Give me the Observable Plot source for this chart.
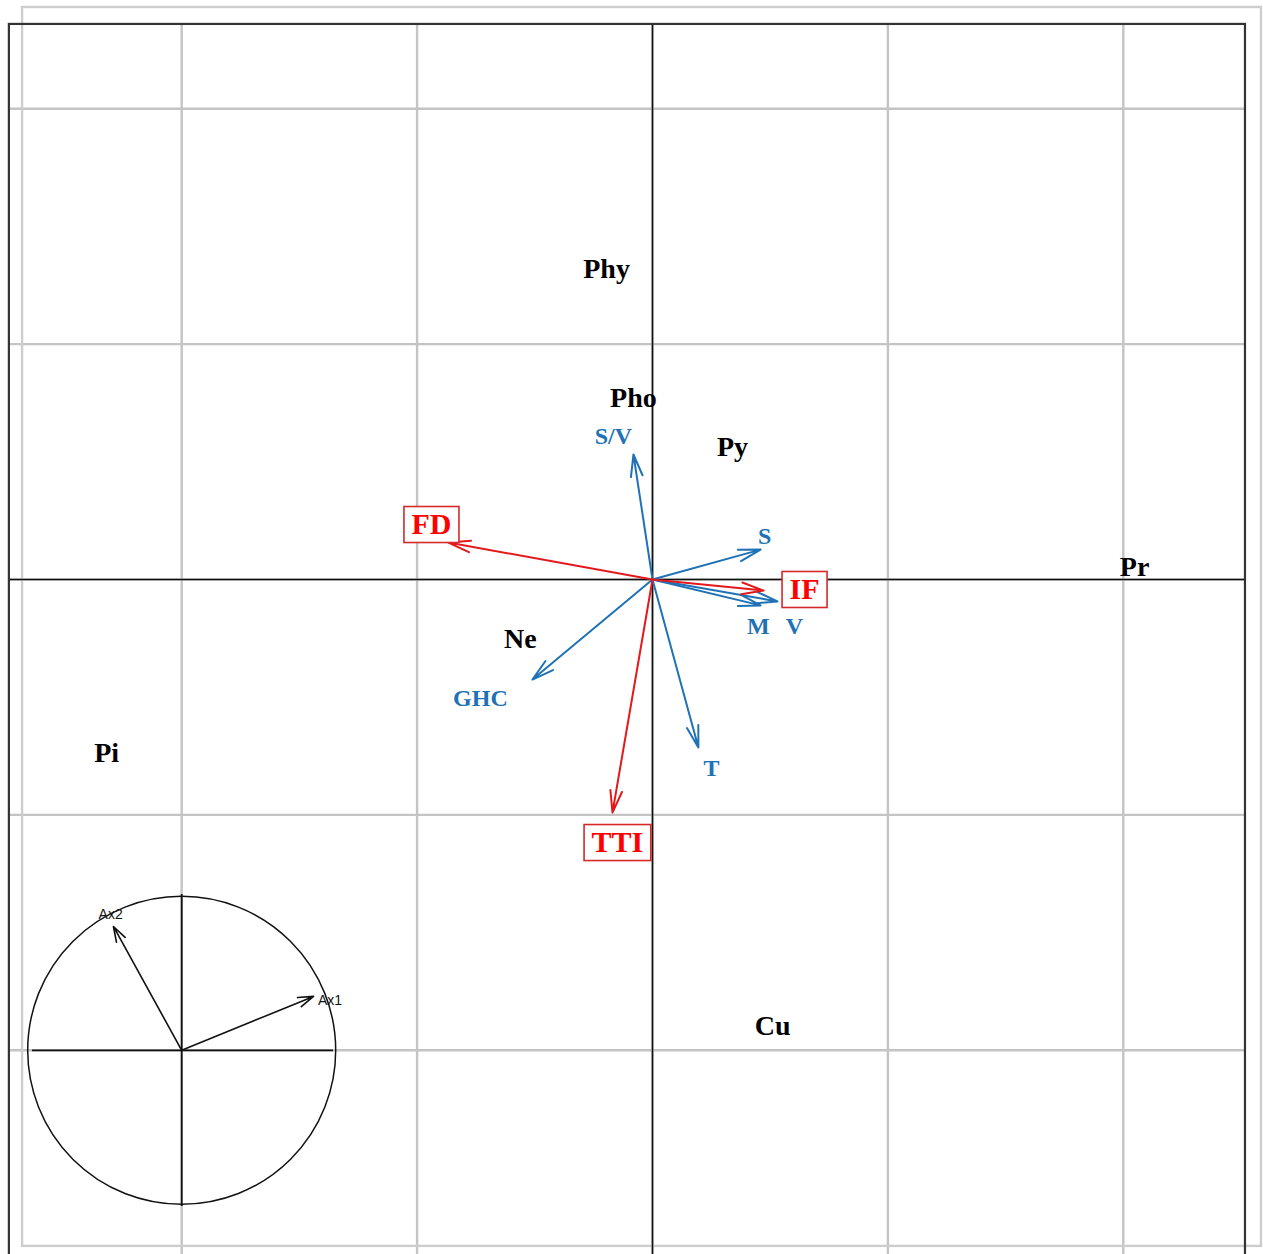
<!DOCTYPE html>
<html><head><meta charset="utf-8">
<script src="https://cdn.jsdelivr.net/npm/d3@7"></script>
<script src="https://cdn.jsdelivr.net/npm/@observablehq/plot@0.6"></script>
<style>html,body{margin:0;padding:0;background:#fff;} #chart svg{overflow:hidden;display:block}</style>
</head><body><div id="chart"></div>
<script>
// ---- data (grid units, 1 unit = one grid cell) ----
const siteNames = ["Phy", "Pho", "Py", "Pr", "Ne", "Pi", "Cu"];
const siteX = [-0.195, -0.081, 0.340, 2.048, -0.561, -2.319, 0.510];
const siteY = [1.321, 0.769, 0.561, 0.055, -0.251, -0.739, -1.895];

const traitNames = ["S/V", "S", "M", "V", "GHC", "T"];
const traitX = [-0.081, 0.459, 0.459, 0.531, -0.510, 0.195];
const traitY = [0.531, 0.127, -0.110, -0.093, -0.425, -0.714];
const traitLabelX = [-0.166, 0.476, 0.450, 0.603, -0.731, 0.251];
const traitLabelY = [0.607, 0.183, -0.200, -0.200, -0.506, -0.803];

const indexNames = ["FD", "IF", "TTI"];
const indexX = [-0.867, 0.472, -0.170];
const indexY = [0.157, -0.047, -0.990];
const indexLabelX = [-0.939, 0.646, -0.149];
const indexLabelY = [0.234, -0.042, -1.117];

const axisNames = ["Ax1", "Ax2"];
const axisX = [-1.440, -2.290];
const axisY = [-1.771, -1.474];
const axisLabelX = [-1.370, -2.302];
const axisLabelY = [-1.788, -1.423];

const gridTicks = [-2, -1, 0, 1, 2];

// ---- layout ----
const W = 1263, H = 1254;
const K = 235.4;               // pixels per grid unit
const xDom = [-652 / K, (W - 652) / K];
const yDom = [-(H - 579) / K, 579 / K];
const blackFrame = {x1: -2.732, x2: 2.519, y1: -2.95, y2: 2.358};
const grayFrame = {x1: -2.676, x2: 2.587, y1: -2.833, y2: 2.430};
const inset = {cx: -2, cy: -2};

const sites = siteNames.map((n, i) => ({n, x: siteX[i], y: siteY[i]}));
const traits = traitNames.map((n, i) => ({n, x: traitX[i], y: traitY[i], lx: traitLabelX[i], ly: traitLabelY[i]}));
const indices = indexNames.map((n, i) => ({n, x: indexX[i], y: indexY[i], lx: indexLabelX[i], ly: indexLabelY[i]}));
const axes = axisNames.map((n, i) => ({n, x: axisX[i], y: axisY[i], lx: axisLabelX[i], ly: axisLabelY[i]}));

const BLUE = "#1f72b6", RED = "#e3191c";
const serif = "Liberation Serif, Times New Roman, serif";

const plot = Plot.plot({
  width: W, height: H,
  margin: 0,
  x: {domain: xDom, axis: null},
  y: {domain: yDom, axis: null},
  style: {background: "white"},
  marks: [
    // grid
    Plot.ruleX(gridTicks, {x: d => d, y1: blackFrame.y1, y2: blackFrame.y2, stroke: "#c4c4c4", strokeWidth: 2.4}),
    Plot.ruleY(gridTicks, {y: d => d, x1: blackFrame.x1, x2: blackFrame.x2, stroke: "#c4c4c4", strokeWidth: 2.4}),
    // gray outer frame
    Plot.rect([grayFrame], {x1: "x1", x2: "x2", y1: "y1", y2: "y2", fill: "none", stroke: "#cdcdcd", strokeWidth: 2.4}),
    // main axes
    Plot.ruleX([0], {y1: blackFrame.y1, y2: blackFrame.y2, stroke: "#111", strokeWidth: 1.6}),
    Plot.ruleY([0], {x1: blackFrame.x1, x2: blackFrame.x2, stroke: "#111", strokeWidth: 1.6}),
    // black frame
    Plot.rect([blackFrame], {x1: "x1", x2: "x2", y1: "y1", y2: "y2", fill: "none", stroke: "#333", strokeWidth: 2.2}),
    // inset circle of axes
    Plot.dot([inset], {x: "cx", y: "cy", r: 154, fill: "none", stroke: "#111", strokeWidth: 1.5}),
    Plot.ruleY([inset.cy], {x1: -2.634, x2: -1.355, stroke: "#111", strokeWidth: 1.8}),
    Plot.ruleX([inset.cx], {y1: -1.338, y2: -2.664, stroke: "#111", strokeWidth: 1.8}),
    Plot.arrow(axes, {x1: () => inset.cx, y1: () => inset.cy, x2: "x", y2: "y", stroke: "#111", strokeWidth: 1.6, headLength: 15, headAngle: 36}),
    Plot.text(axes, {x: "lx", y: "ly", text: "n", textAnchor: "middle", fontSize: 14, fontFamily: "Liberation Sans, Arial, sans-serif", fill: "#111"}),
    // arrows
    Plot.arrow(traits, {x1: () => 0, y1: () => 0, x2: "x", y2: "y", stroke: BLUE, strokeWidth: 2, headLength: 17, headAngle: 30}),
    Plot.arrow(indices, {x1: () => 0, y1: () => 0, x2: "x", y2: "y", stroke: RED, strokeWidth: 2, headLength: 17, headAngle: 30}),
    // labels
    Plot.text(sites, {x: "x", y: "y", text: "n", fontSize: 28, fontWeight: "bold", fontFamily: serif, fill: "#000"}),
    Plot.text(traits, {x: "lx", y: "ly", text: "n", fontSize: 24, fontWeight: "bold", fontFamily: serif, fill: BLUE}),
    Plot.text(indices, {x: "lx", y: "ly", text: "n", fontSize: 30, fontWeight: "bold", fontFamily: serif, fill: "#ff0000", ariaDescription: "boxed"})
  ]
});
document.getElementById("chart").appendChild(plot);

// draw boxes around the boxed (red) labels
d3.select(plot).selectAll("g[aria-description=boxed] text").each(function() {
  const t = this;
  const b = t.getBBox();
  const cx = b.x + b.width / 2, cy = b.y + b.height / 2;
  const w = b.width + 15, h = 36;
  d3.select(t.parentNode).insert("rect", () => t)
    .attr("x", cx - w / 2).attr("y", cy - h / 2 + 1)
    .attr("width", w).attr("height", h)
    .attr("transform", t.getAttribute("transform"))
    .attr("fill", "white").attr("stroke", "#d42a2a").attr("stroke-width", 1.6);
});
</script>
</body></html>
